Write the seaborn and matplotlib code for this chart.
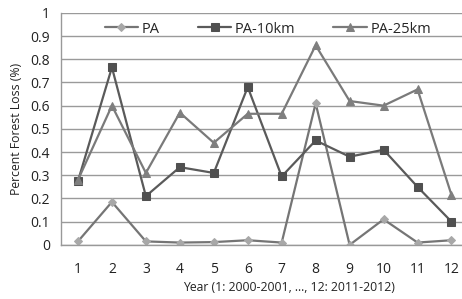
import pandas as pd
import numpy as np
import matplotlib
matplotlib.use('Agg')
import matplotlib.pyplot as plt
import seaborn as sns

years = list(range(1, 13))
pa = [0.015, 0.185, 0.015, 0.01, 0.012, 0.02, 0.01, 0.61, 0.0, 0.11, 0.01, 0.02]
pa_10km = [0.275, 0.765, 0.21, 0.335, 0.31, 0.68, 0.295, 0.45, 0.38, 0.41, 0.25, 0.1]
pa_25km = [0.28, 0.60, 0.31, 0.57, 0.44, 0.565, 0.565, 0.86, 0.62, 0.60, 0.67, 0.215]
series = ['PA', 'PA-10km', 'PA-25km']

df = pd.DataFrame({'year': years * 3,
                   'loss': pa + pa_10km + pa_25km,
                   'series': [s for s in series for _ in years]})

sns.set_theme(style='white')
plt.rcParams['font.family'] = ['Open Sans', 'DejaVu Sans']

fig = plt.figure(figsize=(4.62, 2.99), dpi=100)
ax = fig.add_axes([0.132, 0.181, 1.014 - 0.132, 0.957 - 0.181])

line_cols = {'PA': '#757575', 'PA-10km': '#5a5a5a', 'PA-25km': '#7a7a7a'}
mark_cols = {'PA': '#a8a8a8', 'PA-10km': '#505050', 'PA-25km': '#7f7f7f'}
markers = {'PA': 'D', 'PA-10km': 's', 'PA-25km': '^'}
msize = {'PA': 4, 'PA-10km': 6, 'PA-25km': 6}

for s in series:
    d = df[df['series'] == s]
    sns.lineplot(data=d, x='year', y='loss', ax=ax, color=line_cols[s], linewidth=1.6,
                 marker=markers[s], markersize=msize[s], markerfacecolor=mark_cols[s],
                 markeredgecolor=mark_cols[s], label=s)

ax.set_xlim(0.5, 12.5)
ax.set_ylim(0, 1)
ax.set_yticks(np.arange(0, 1.01, 0.1))
ax.set_yticklabels(['0'] + [f'{v:.1f}' for v in np.arange(0.1, 0.95, 0.1)] + ['1'])
ax.set_xticks(years)
ax.set_xticks(np.arange(0.5, 12.6, 1), minor=True)
ax.tick_params(axis='x', which='major', length=0, pad=12, labelsize=10, colors='#222222')
ax.tick_params(axis='x', which='minor', length=5, color='#999999', direction='out')
ax.tick_params(axis='y', length=0, pad=8, labelsize=10, colors='#222222')
ax.yaxis.grid(True, color='#9a9a9a', linewidth=1.0)
ax.set_axisbelow(True)
for sp in ['top', 'right']:
    ax.spines[sp].set_visible(False)
for sp in ['left', 'bottom']:
    ax.spines[sp].set_color('#999999')
    ax.spines[sp].set_linewidth(1.0)

ax.set_xlabel('Year (1: 2000-2001, ..., 12: 2011-2012)', fontsize=8.8, color='#222222')
ax.set_ylabel('Percent Forest Loss (%)', fontsize=8.8, color='#222222', labelpad=5)
ax.xaxis.set_label_coords((289 - 61) / (468.4 - 61), -0.155)

leg = ax.legend(loc='center', bbox_to_anchor=((268 - 61) / (468.4 - 61), 0.93), ncol=3,
                frameon=False, fontsize=10.5, handlelength=2.3, columnspacing=2.6,
                handletextpad=0.25, borderpad=0.1)

fig.savefig('out.png', dpi=100)
